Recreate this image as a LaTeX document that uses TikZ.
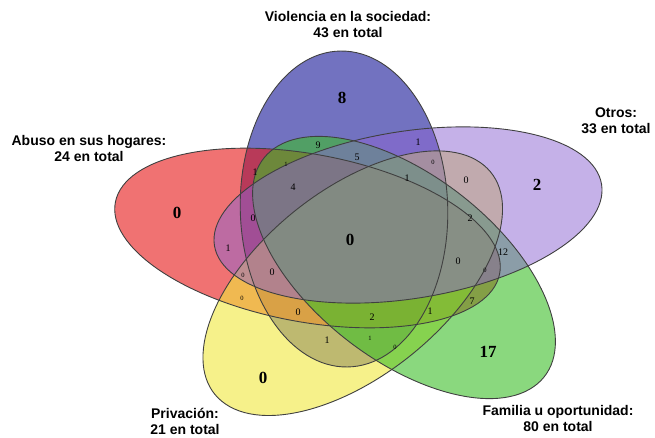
\documentclass[tikz,border=0pt]{standalone}
\usepackage{fontspec}
\setmainfont{Liberation Serif}
\newfontfamily\titlefont{Liberation Sans}

\definecolor{vioBlue}{RGB}{20,20,150}
\definecolor{abuRed}{RGB}{230,20,20}
\definecolor{otrPurple}{RGB}{140,100,210}
\definecolor{priYellow}{RGB}{240,232,60}
\definecolor{famGreen}{RGB}{60,190,40}

\begin{document}
\begin{tikzpicture}[x=1pt,y=1pt,
    outline/.style={draw=black!75, line width=0.9pt},
    bignum/.style={font=\fontsize{17}{17}\selectfont\bfseries},
    smallnum/.style={font=\fontsize{10}{10}\selectfont},
    tinynum/.style={font=\fontsize{6.5}{6.5}\selectfont},
    settitle/.style={font=\titlefont\bfseries\fontsize{14}{16}\selectfont, align=center}]
  \useasboundingbox (0,0) rectangle (655,-438);

  % the five sets, drawn unstretched and then widened
  \begin{scope}[xscale=1.25]
    \foreach \cx/\cy/\ang/\col/\op in {275.2/-209/91/vioBlue/0.6, 246/-238/-14.8/abuRed/0.6,
        282.2/-283.2/50/priYellow/0.6, 323.2/-267.5/-49/famGreen/0.6, 326.4/-215/12.7/otrPurple/0.5}
      \fill[\col, fill opacity=\op, rotate around={\ang:(\cx,\cy)}] (\cx,\cy) ellipse [x radius=158, y radius=83];
    \foreach \cx/\cy/\ang in {275.2/-209/91, 246/-238/-14.8, 282.2/-283.2/50, 326.4/-215/12.7, 323.2/-267.5/-49}
      \draw[outline, rotate around={\ang:(\cx,\cy)}] (\cx,\cy) ellipse [x radius=158, y radius=83];
  \end{scope}

  % set names
  \node[settitle] (vioT) at (348,-25) {Violencia en la sociedad:\\43 en total};
  \node[settitle] (abuT) at (89,-148) {Abuso en sus hogares:\\24 en total};
  \node[settitle] (otrT) at (616,-121) {Otros:\\33 en total};
  \node[settitle] (priT) at (185,-421) {Privación:\\21 en total};
  \node[settitle] (famT) at (558,-418) {Familia u oportunidad:\\80 en total};

  % counts
  \node[bignum] (vio) at (342,-98) {8};
  \node[bignum] (abu) at (177,-213) {0};
  \node[bignum] (otr) at (537,-185) {2};
  \node[bignum] (pri) at (263,-378) {0};
  \node[bignum] (fam) at (488,-352) {17};
  \node[bignum] (all) at (350,-240) {0};

  \node[smallnum] (vf) at (318,-145) {9};
  \node[smallnum] (vfo) at (357,-157) {5};
  \node[smallnum] (vo) at (418,-142) {1};
  \node[tinynum] (vop) at (433,-162) {0};
  \node[smallnum] (vfop) at (407,-178) {1};
  \node[smallnum] (op) at (466,-180) {0};
  \node[smallnum] (fop) at (470,-218) {2};
  \node[smallnum] (fo) at (503,-252) {12};
  \node[smallnum] (vfop2) at (458,-261) {0};
  \node[tinynum] (afo) at (485,-270) {0};
  \node[smallnum] (af) at (472,-301) {7};
  \node[smallnum] (vaf) at (430,-311) {1};
  \node[smallnum] (vafp) at (372,-317) {2};
  \node[tinynum] (vfp) at (370,-338) {1};
  \node[tinynum] (fp) at (395,-347) {0};
  \node[smallnum] (va) at (255,-172) {1};
  \node[tinynum] (vaf2) at (286,-164) {1};
  \node[smallnum] (vafo) at (293,-187) {4};
  \node[smallnum] (vao) at (253,-218) {0};
  \node[smallnum] (ao) at (228,-248) {1};
  \node[tinynum] (aop) at (243,-275) {0};
  \node[smallnum] (vaop) at (272,-272) {0};
  \node[tinynum] (ap) at (242,-298) {0};
  \node[smallnum] (vap) at (298,-312) {0};
  \node[smallnum] (vp) at (327,-340) {1};
\end{tikzpicture}
\end{document}
